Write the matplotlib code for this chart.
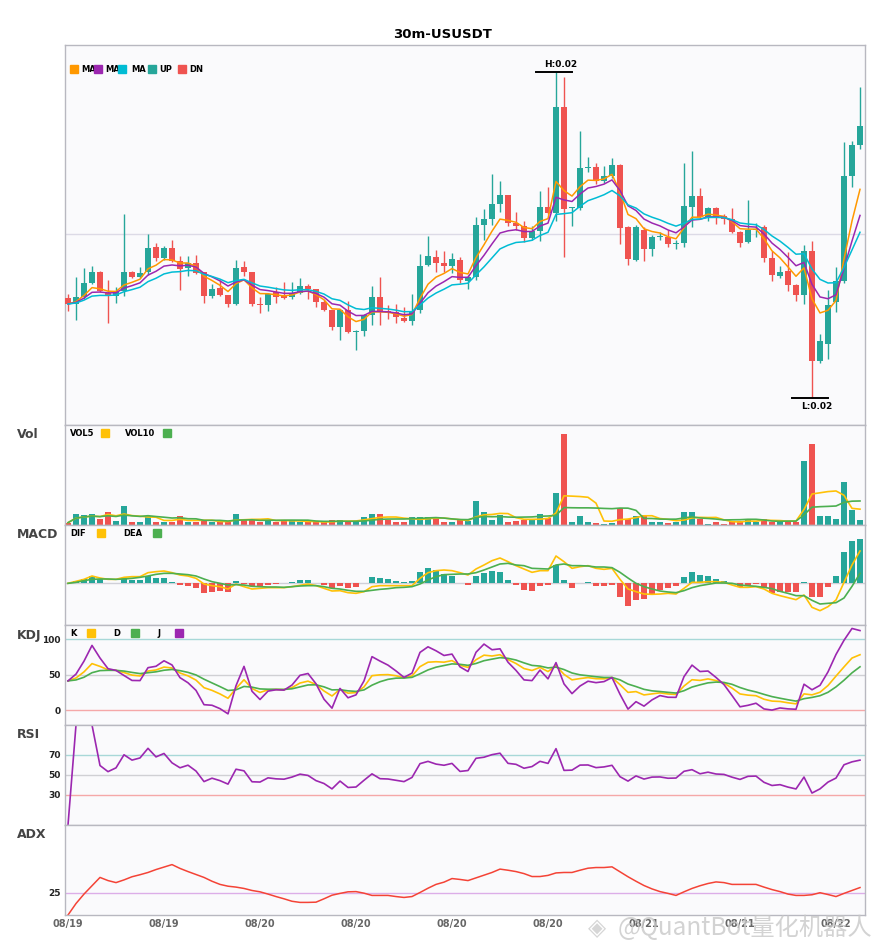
import numpy as np
import pandas as pd
import matplotlib
matplotlib.use("Agg")
import matplotlib.pyplot as plt
from matplotlib.patches import Rectangle

# 30m candles, prices in 1e-5 USDT
opens = [1936, 1930, 1937, 1951, 1962, 1941, 1938, 1943, 1962, 1957,
         1962, 1987, 1976, 1986, 1973, 1966, 1971, 1962, 1938, 1946,
         1939, 1930, 1967, 1962, 1930, 1929, 1942, 1938, 1937, 1941,
         1948, 1945, 1932, 1924, 1907, 1924, 1902, 1903, 1919, 1937,
         1923, 1922, 1916, 1913, 1924, 1969, 1977, 1971, 1968, 1974,
         1953, 1957, 2009, 2015, 2030, 2039, 2011, 2008, 1996, 2003,
         2027, 2021, 2127, 2026, 2026, 2066, 2067, 2053, 2058, 2069,
         2007, 1974, 2004, 1985, 1997, 1997, 1990, 1991, 2027, 2038,
         2017, 2026, 2018, 2015, 2002, 1992, 2004, 2007, 1976, 1958,
         1963, 1949, 1939, 1983, 1873, 1890, 1932, 1953, 2058, 2089]
highs = [1940, 1957, 1966, 1968, 1963, 1954, 1947, 2020, 1963, 1967,
         2000, 1991, 1988, 1994, 1978, 1978, 1979, 1962, 1950, 1954,
         1939, 1974, 1973, 1962, 1937, 1941, 1947, 1952, 1952, 1956,
         1950, 1945, 1934, 1924, 1925, 1933, 1904, 1920, 1948, 1957,
         1929, 1930, 1927, 1940, 1980, 1998, 1984, 1983, 1981, 1977,
         1959, 2017, 2025, 2060, 2053, 2039, 2022, 2013, 2008, 2043,
         2047, 2162, 2157, 2027, 2103, 2077, 2071, 2068, 2076, 2070,
         2008, 2009, 2007, 1999, 2002, 2004, 1994, 2071, 2083, 2046,
         2027, 2027, 2020, 2026, 2003, 2034, 2011, 2009, 1983, 1968,
         1982, 1950, 1989, 1993, 1900, 1944, 1967, 2092, 2093, 2147]
lows = [1923, 1914, 1935, 1950, 1942, 1911, 1931, 1938, 1956, 1956,
        1959, 1973, 1974, 1972, 1944, 1958, 1960, 1931, 1936, 1938,
        1927, 1929, 1958, 1928, 1921, 1923, 1931, 1935, 1935, 1940,
        1935, 1927, 1923, 1904, 1894, 1901, 1884, 1898, 1909, 1909,
        1915, 1911, 1912, 1909, 1921, 1968, 1962, 1962, 1961, 1951,
        1945, 1954, 1994, 2009, 2022, 2008, 2004, 1992, 1994, 1993,
        2020, 2013, 1977, 2008, 2024, 2062, 2050, 2051, 2056, 1990,
        1969, 1973, 1973, 1978, 1994, 1987, 1985, 1987, 2007, 2016,
        2013, 2010, 2010, 2001, 1987, 1991, 1997, 1972, 1953, 1956,
        1943, 1933, 1930, 1836, 1871, 1875, 1922, 1951, 2047, 2085]
closes = [1930, 1937, 1951, 1962, 1943, 1938, 1942, 1962, 1957, 1961,
          1986, 1976, 1986, 1973, 1965, 1971, 1961, 1938, 1945, 1939,
          1930, 1966, 1962, 1930, 1929, 1940, 1937, 1936, 1941, 1948,
          1945, 1932, 1924, 1907, 1924, 1902, 1903, 1919, 1937, 1922,
          1921, 1917, 1913, 1923, 1968, 1978, 1971, 1968, 1975, 1954,
          1957, 2009, 2015, 2030, 2039, 2011, 2008, 1996, 2003, 2027,
          2021, 2127, 2025, 2027, 2066, 2067, 2053, 2058, 2069, 2006,
          1975, 2007, 1985, 1997, 1998, 1990, 1991, 2028, 2038, 2017,
          2026, 2017, 2015, 2002, 1991, 2004, 2005, 1976, 1959, 1962,
          1949, 1939, 1983, 1873, 1893, 1929, 1953, 2058, 2089, 2108]
volumes = [7, 34, 31, 34, 19, 40, 13, 58, 10, 10,
           28, 10, 10, 10, 28, 10, 10, 13, 10, 9,
           9, 34, 16, 16, 10, 16, 8, 16, 12, 8,
           8, 8, 8, 16, 16, 10, 10, 25, 34, 34,
           16, 10, 8, 25, 25, 25, 19, 10, 10, 15,
           13, 73, 40, 16, 31, 10, 13, 15, 15, 34,
           21, 94, 271, 10, 28, 10, 7, 4, 7, 52,
           19, 28, 31, 8, 10, 7, 8, 40, 40, 19,
           4, 10, 4, 13, 13, 19, 8, 19, 10, 10,
           10, 10, 191, 241, 28, 28, 19, 127, 46, 16]
# MACD, in 1e-7 USDT
dif_values = [0, 6, 12, 22, 16, 12, 12, 18, 20, 20,
              32, 35, 37, 32, 25, 22, 15, -2, -7, -10,
              -17, -2, -10, -17, -15, -13, -13, -13, -10, -6,
              -2, -7, -15, -23, -22, -28, -30, -25, -10, -7,
              -7, -7, -7, -7, 15, 32, 38, 40, 38, 32,
              25, 43, 55, 68, 76, 65, 53, 43, 33, 38,
              38, 82, 65, 45, 50, 53, 45, 42, 45, 12,
              -17, -25, -32, -33, -32, -30, -32, -15, 3, 3,
              5, 5, 3, -5, -12, -12, -10, -17, -30, -37,
              -43, -49, -35, -72, -82, -70, -50, 3, 55, 97]
dea_values = [0, 3, 8, 12, 13, 13, 12, 13, 15, 18,
              22, 27, 30, 30, 28, 26, 22, 13, 5, 0,
              -5, -4, -5, -9, -10, -11, -11, -12, -10, -8,
              -7, -7, -10, -15, -17, -21, -24, -24, -21, -18,
              -16, -13, -12, -10, -2, 10, 20, 26, 27, 28,
              28, 32, 40, 49, 58, 60, 55, 53, 45, 44,
              43, 55, 58, 53, 53, 52, 49, 49, 47, 33,
              16, 0, -10, -17, -23, -26, -28, -22, -13, -7,
              -3, 1, 1, 0, -5, -7, -9, -12, -16, -24,
              -30, -37, -37, -51, -62, -60, -58, -44, -9, 30]
macd_hist = [0, 6, 12, 22, 12, 0, 0, 15, 10, 10,
             22, 16, 16, 4, -5, -7, -13, -29, -26, -22,
             -25, 6, -2, -7, -7, -4, -2, 0, 4, 10,
             10, 0, -4, -13, -7, -13, -10, 0, 19, 16,
             13, 7, 4, 7, 34, 46, 40, 28, 22, 0,
             -4, 22, 31, 37, 34, 10, -4, -19, -22, -7,
             -4, 55, 10, -13, 0, 4, -7, -7, -4, -40,
             -67, -49, -46, -34, -19, -13, -7, 19, 34, 25,
             22, 13, 7, -3, -10, -4, -2, -10, -28, -25,
             -25, -25, 4, -40, -40, -10, 22, 94, 127, 133]
adx_values = [15.0, 20.1, 24.3, 28.0, 31.7, 30.3, 29.4, 30.6, 32.0, 32.9,
              33.9, 35.2, 36.3, 37.4, 35.7, 34.3, 33.0, 31.7, 30.0, 28.6,
              27.8, 27.4, 26.8, 25.9, 25.3, 24.3, 23.2, 22.2, 21.1, 20.6,
              20.6, 20.7, 22.2, 23.8, 24.6, 25.3, 25.4, 24.7, 23.7, 23.7,
              23.7, 23.2, 22.8, 23.2, 25.0, 26.9, 28.6, 29.6, 31.2, 30.8,
              30.3, 31.5, 32.7, 33.9, 35.4, 34.9, 34.3, 33.4, 32.1, 32.1,
              32.6, 33.7, 33.9, 33.9, 34.9, 35.8, 36.1, 36.1, 36.4, 34.2,
              32.0, 30.0, 28.1, 26.6, 25.4, 24.6, 23.7, 25.3, 26.8, 28.0,
              29.0, 29.7, 29.4, 28.6, 28.6, 28.6, 28.6, 27.4, 26.3, 25.4,
              24.3, 23.7, 23.7, 24.0, 24.9, 24.1, 23.2, 24.6, 25.9, 27.2]
tick_pos = [0, 12, 24, 36, 48, 60, 72, 84, 96]
tick_labels = ['08/19', '08/19', '08/20', '08/20', '08/20', '08/20', '08/21', '08/21', '08/22']

UP = '#26a69a'
DN = '#ef5350'
YEL = '#ffc107'
GRN = '#4caf50'
PUR = '#9c27b0'
BG = '#fafafc'
FRAME = '#b8b8c0'

o = np.array(opens) / 1e5
h = np.array(highs) / 1e5
l = np.array(lows) / 1e5
c = np.array(closes) / 1e5
v = np.array(volumes, dtype=float)
x = np.arange(len(c))
cs = pd.Series(c)

# moving averages and oscillators from the candles
ma_fast = cs.ewm(span=5, adjust=False).mean()
ma_mid = cs.ewm(span=8, adjust=False).mean()
ma_slow = cs.ewm(span=13, adjust=False).mean()
vol5 = pd.Series(v).rolling(5, min_periods=1).mean()
vol10 = pd.Series(v).rolling(10, min_periods=1).mean()

hh = pd.Series(h).rolling(9, min_periods=1).max()
ll = pd.Series(l).rolling(9, min_periods=1).min()
rsv = (cs - ll) / (hh - ll) * 100
k_line = rsv.ewm(alpha=1 / 3, adjust=False).mean()
d_line = k_line.ewm(alpha=1 / 3, adjust=False).mean()
j_line = 3 * k_line - 2 * d_line

diff = cs.diff()
gain = diff.clip(lower=0).ewm(com=13).mean()
loss = (-diff.clip(upper=0)).ewm(com=13).mean()
rsi = (100 * gain / (gain + loss)).fillna(0)

W, H = 885, 950
fig = plt.figure(figsize=(W / 100, H / 100), dpi=100)


def box(top, bottom):
    return [65 / W, 1 - bottom / H, 800 / W, (bottom - top) / H]


axes = [fig.add_axes(box(45, 425)), fig.add_axes(box(425, 525)),
        fig.add_axes(box(525, 625)), fig.add_axes(box(625, 725)),
        fig.add_axes(box(725, 825)), fig.add_axes(box(825, 915))]
ax_k, ax_v, ax_m, ax_kdj, ax_rsi, ax_adx = axes
for ax in axes:
    ax.set_facecolor(BG)
    ax.set_xlim(-0.375, len(c) - 0.375)
    for s in ax.spines.values():
        s.set_color(FRAME)
        s.set_linewidth(1)
    ax.set_xticks([])
    ax.set_yticks([])

# candles
up = c >= o
col = np.where(up, UP, DN)
ax_k.axhline(0.02, color='#dcdae6', lw=1, zorder=0)
ax_k.vlines(x, l, h, colors=col, lw=1, zorder=2)
body = np.abs(c - o)
bh = np.maximum(body, 1.3e-5)
ax_k.bar(x, bh, bottom=np.minimum(o, c) - (bh - body) / 2, width=0.75,
         color=col, linewidth=0, zorder=3)
ax_k.plot(x, ma_fast, color='#ff9800', lw=1.1, zorder=4)
ax_k.plot(x, ma_mid, color=PUR, lw=1.1, zorder=4)
ax_k.plot(x, ma_slow, color='#00bcd4', lw=1.1, zorder=4)
ax_k.set_ylim(0.01809, 0.02189)

hi = int(np.argmax(h))
lo = int(np.argmin(l))
ax_k.plot([hi - 2.5, hi + 2], [h[hi]] * 2, color='black', lw=1.4)
ax_k.annotate(f"H:{h[hi]:.2f}", (hi + 0.6, h[hi]), xytext=(0, 2.5),
              textcoords='offset points', ha='center', va='bottom',
              fontsize=6.5, fontweight='bold')
ax_k.plot([lo - 2.5, lo + 2], [l[lo]] * 2, color='black', lw=1.4)
ax_k.annotate(f"L:{l[lo]:.2f}", (lo + 0.6, l[lo]), xytext=(0, -3),
              textcoords='offset points', ha='center', va='top',
              fontsize=6.5, fontweight='bold')

# volume
ax_v.bar(x, v, width=0.75, color=col, linewidth=0)
ax_v.plot(x, vol5, color=YEL, lw=1.2)
ax_v.plot(x, vol10, color=GRN, lw=1.2)
ax_v.set_ylim(0, 298)

# macd
mh = np.array(macd_hist)
ax_m.axhline(0, color='#d0d0d8', lw=1, zorder=0)
ax_m.bar(x, mh, width=0.75, color=np.where(mh >= 0, UP, DN), linewidth=0)
ax_m.plot(x, dif_values, color=YEL, lw=1.2)
ax_m.plot(x, dea_values, color=GRN, lw=1.2)
ax_m.set_ylim(-125, 175)

# kdj
ax_kdj.axhline(100, color='#a8d8d8', lw=1, zorder=0)
ax_kdj.axhline(50, color='#d0d0d4', lw=1, zorder=0)
ax_kdj.axhline(0, color='#f5a8a8', lw=1, zorder=0)
ax_kdj.plot(x, k_line, color=YEL, lw=1.2)
ax_kdj.plot(x, d_line, color=GRN, lw=1.2)
ax_kdj.plot(x, j_line, color=PUR, lw=1.2)
ax_kdj.set_ylim(-21, 120)
ax_kdj.set_yticks([0, 50, 100])

# rsi
ax_rsi.axhline(70, color='#a8d8d8', lw=1, zorder=0)
ax_rsi.axhline(50, color='#d0d0d4', lw=1, zorder=0)
ax_rsi.axhline(30, color='#f5a8a8', lw=1, zorder=0)
ax_rsi.plot(x, rsi, color=PUR, lw=1.2)
ax_rsi.set_ylim(0, 100)
ax_rsi.set_yticks([30, 50, 70])

# adx
ax_adx.axhline(25, color='#dcaee8', lw=1, zorder=0)
ax_adx.plot(x, adx_values, color='#f44336', lw=1.1)
ax_adx.set_ylim(15, 55)
ax_adx.set_yticks([25])
ax_adx.set_xticks(tick_pos)
ax_adx.set_xticklabels(tick_labels)
ax_adx.tick_params(axis='x', length=0, pad=3, labelsize=7, labelcolor='#666666')
for t in ax_adx.get_xticklabels():
    t.set_fontweight('bold')

for ax in (ax_kdj, ax_rsi, ax_adx):
    ax.tick_params(axis='y', length=0, pad=3, labelsize=6.5, labelcolor='#222222')
    for t in ax.get_yticklabels():
        t.set_fontweight('bold')

# titles and legends
fig.text(443 / W, 1 - 34 / H, '30m-USUSDT', ha='center', va='center',
         fontsize=9.5, fontweight='bold')
for name, yp in [('Vol', 435), ('MACD', 535), ('KDJ', 636), ('RSI', 735), ('ADX', 835)]:
    fig.text(17 / W, 1 - yp / H, name, ha='left', va='center', fontsize=9,
             fontweight='bold', color='#444444')


def square(xp, yp, color):
    fig.patches.append(Rectangle((xp / W, 1 - (yp + 3.7) / H), 7.5 / W, 7.5 / H,
                                 transform=fig.transFigure, color=color, zorder=6))


def label(xp, yp, s):
    fig.text(xp / W, 1 - yp / H, s, ha='left', va='center', fontsize=6,
             fontweight='bold', zorder=5)


for xs, xt, s, colr in [(70, 81, 'MA', '#ff9800'), (94, 105, 'MA', PUR),
                        (118, 131, 'MA', '#00bcd4'), (148, 159, 'UP', UP),
                        (178, 189, 'DN', DN)]:
    square(xs, 69, colr)
    label(xt, 69, s)

label(70, 433, 'VOL5'); square(101, 433, YEL)
label(125, 433, 'VOL10'); square(163, 433, GRN)
label(70, 533, 'DIF'); square(97, 533, YEL)
label(123, 533, 'DEA'); square(153, 533, GRN)
label(70, 633, 'K'); square(87, 633, YEL)
label(113, 633, 'D'); square(131, 633, GRN)
label(157, 633, 'J'); square(175, 633, PUR)

# watermark
fig.text(588 / W, 1 - 928 / H, '◈', ha='left', va='center', fontsize=17,
         color='#cfcfcf', alpha=0.85, zorder=10)
fig.text(618 / W, 1 - 928 / H, '@QuantBot量化机器人', ha='left', va='center',
         fontsize=17.5, color='#c8c8c8', alpha=0.8,
         family=['Noto Sans CJK SC', 'DejaVu Sans'], zorder=10)

fig.savefig('out.png', dpi=100, facecolor='white')
